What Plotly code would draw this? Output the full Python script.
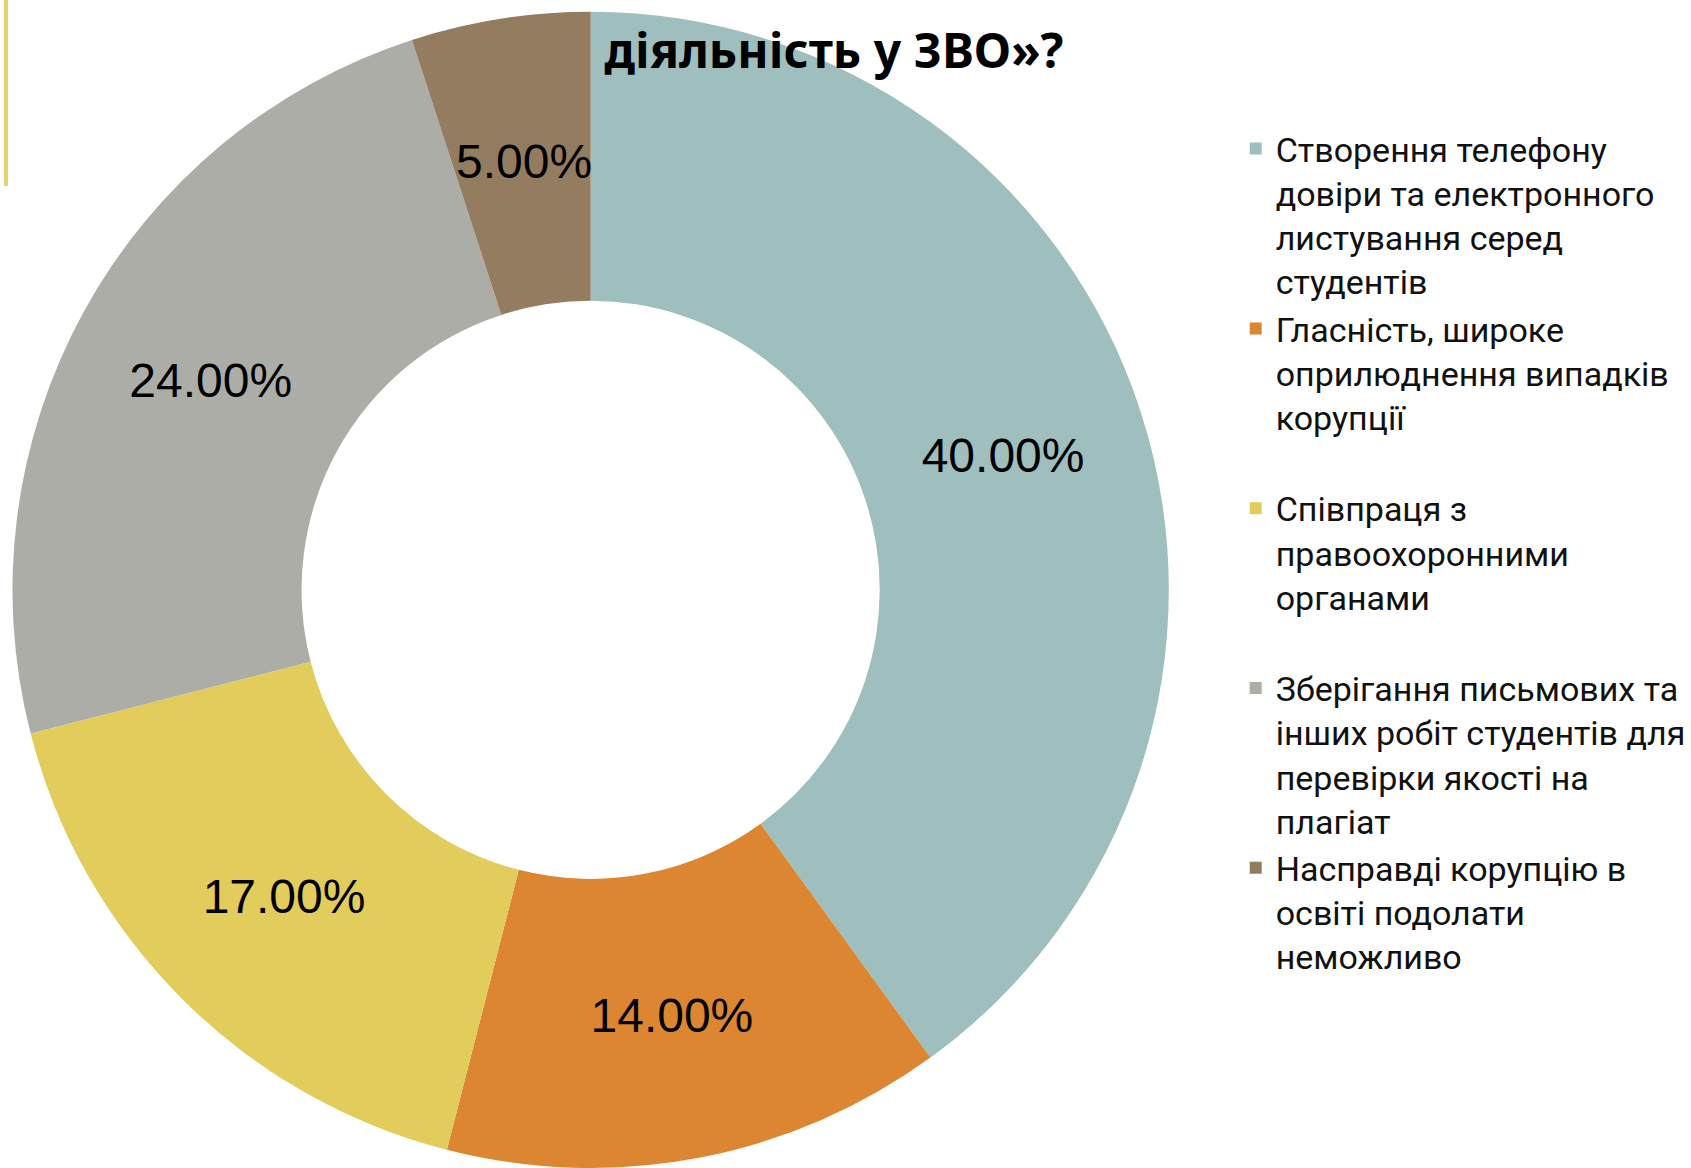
import math
import plotly.graph_objects as go

labels = [
    "Створення телефону<br>довіри та електронного<br>листування серед<br>студентів",
    "Гласність, широке<br>оприлюднення випадків<br>корупції<br> ",
    "Співпраця з<br>правоохоронними<br>органами<br> ",
    "Зберігання письмових та<br>інших робіт студентів для<br>перевірки якості на<br>плагіат",
    "Насправді корупцію в<br>освіті подолати<br>неможливо",
]
values = [40, 14, 17, 24, 5]
colors = ["#9FBFBE", "#DC8632", "#E2CC5B", "#ADADA7", "#937C5F"]

W, H = 1691, 1168
dom_x = [7 / W, 1187 / W]
dom_y = [0, 0.99]
HOLE = 0.5

# the last slice is too narrow for plotly to keep its label in the middle,
# so that one is written as an annotation at the slice's mid angle
text_pos = ["inside"] * (len(values) - 1) + ["none"]

fig = go.Figure()
fig.add_trace(go.Pie(
    labels=labels, values=values,
    sort=False, direction="clockwise", rotation=0,
    hole=HOLE,
    marker=dict(colors=colors, line=dict(width=0)),
    texttemplate="%{value:.2f}%",
    textposition=text_pos,
    insidetextorientation="horizontal",
    textfont=dict(family="Liberation Sans", size=48, color="black"),
    domain=dict(x=dom_x, y=dom_y),
))

# pie geometry in pixels, from the domain
r_px = min((dom_x[1] - dom_x[0]) * W, (dom_y[1] - dom_y[0]) * H) / 2
cx = (dom_x[0] + dom_x[1]) / 2 * W
cy = (dom_y[0] + dom_y[1]) / 2 * H
total = sum(values)
start = sum(values[:-1])
mid = (start + values[-1] / 2) / total * 2 * math.pi
r_mid = r_px * (1 + HOLE) / 2
fig.add_annotation(
    x=(cx + r_mid * math.sin(mid)) / W, y=(cy + r_mid * math.cos(mid)) / H,
    xref="paper", yref="paper", xanchor="center", yanchor="middle",
    showarrow=False,
    text=f"{values[-1]:.2f}%",
    font=dict(family="Liberation Sans", size=48, color="black"),
)

# yellow accent bar on the left edge of the slide
fig.add_shape(type="rect", xref="paper", yref="paper",
              x0=4 / W, x1=8 / W, y0=1 - 186 / H, y1=1,
              fillcolor="#E8D06A", line=dict(width=0))

fig.update_layout(
    width=W, height=H,
    margin=dict(l=0, r=0, t=0, b=0),
    paper_bgcolor="white", plot_bgcolor="white",
    title=dict(text="<b>діяльність у ЗВО»?</b>", x=843 / W, y=1 - 51 / H,
               xref="paper", yref="paper", xanchor="center", yanchor="middle",
               font=dict(family="Noto Sans", size=48, color="black")),
    uniformtext=dict(minsize=48, mode="show"),
    legend=dict(x=1249 / W, y=1 - 120 / H, xanchor="left", yanchor="top",
                valign="top", font=dict(family="Roboto", size=34, color="#111111"),
                bgcolor="rgba(0,0,0,0)"),
)

fig.write_html("out.html", config={"displayModeBar": False},
               post_script="document.body.style.margin='0';")
